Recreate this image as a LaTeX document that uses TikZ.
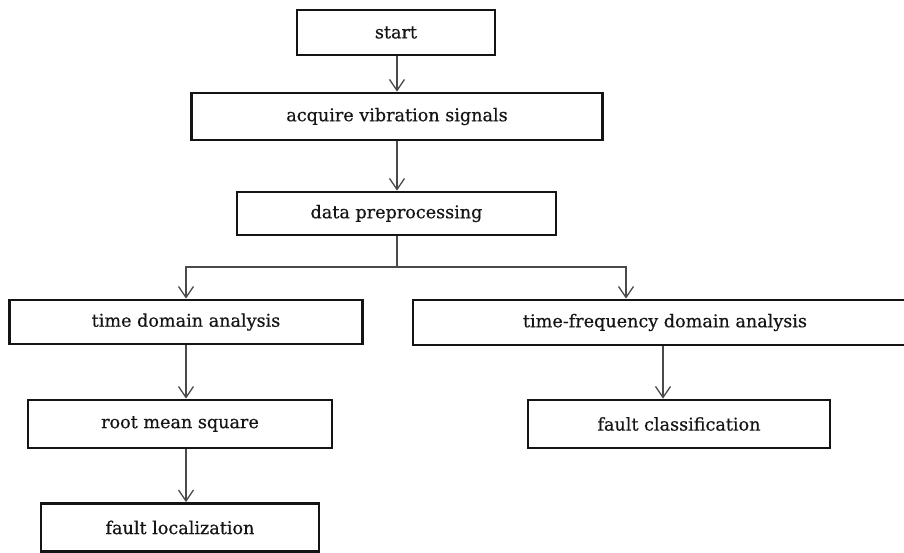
\documentclass[tikz,border=0pt]{standalone}
\usepackage{fontspec}
\setmainfont{DejaVu Serif}[FakeBold=0.5]
\usetikzlibrary{arrows.meta}
\definecolor{boxline}{HTML}{141414}
\definecolor{arrline}{HTML}{4A4A4A}
\definecolor{txt}{HTML}{151515}
\tikzset{
  fbox/.style={draw=boxline, line width=2.8pt, fill=white, inner sep=0pt,
    text=txt, font=\fontsize{17.6}{20}\selectfont, anchor=center},
  arr/.style={draw=arrline, line width=1.3pt,
    -{Straight Barb[length=11pt,width=15pt,line width=1.3pt]}},
  trunk/.style={draw=arrline, line width=2.6pt}
}
\begin{document}
\begin{tikzpicture}[x=1pt,y=-1pt]
\useasboundingbox (0,0) rectangle (904,553);
\node[fbox, minimum width=198pt, minimum height=45pt] (start) at (396,32.5) {start};
\node[fbox, minimum width=411pt, minimum height=47pt] (acq) at (397,116.5) {acquire vibration signals};
\node[fbox, minimum width=319pt, minimum height=43pt] (data) at (396.5,213.5) {data preprocessing};
\node[fbox, minimum width=353pt, minimum height=44pt] (time) at (186,322) {time domain analysis};
\node[fbox, minimum width=504pt, minimum height=45pt] (tf) at (665,322.5) {time-frequency domain analysis};
\node[fbox, minimum width=304pt, minimum height=48pt] (root) at (180,424) {root mean square};
\node[fbox, minimum width=302pt, minimum height=48pt] (fc) at (679,424) {fault classification};
\node[fbox, minimum width=278pt, minimum height=48pt] (fl) at (180,527.5) {fault localization};
\coordinate (sp) at (397,267);
\coordinate (rbx) at (626,0);
\coordinate (tfx) at (663,0);
\draw[arr] (start.south -| sp) -- (acq.north -| sp);
\draw[arr] (acq.south -| sp) -- (data.north -| sp);
\draw[trunk] (data.south -| sp) -- (sp);
\draw[arr] (sp) -| (time.north);
\draw[arr] (sp) -| (tf.north -| rbx);
\draw[arr] (time.south) -- (root.north -| time.south);
\draw[arr] (tf.south -| tfx) -- (fc.north -| tfx);
\draw[arr] (root.south -| time.south) -- (fl.north -| time.south);
\end{tikzpicture}
\end{document}
